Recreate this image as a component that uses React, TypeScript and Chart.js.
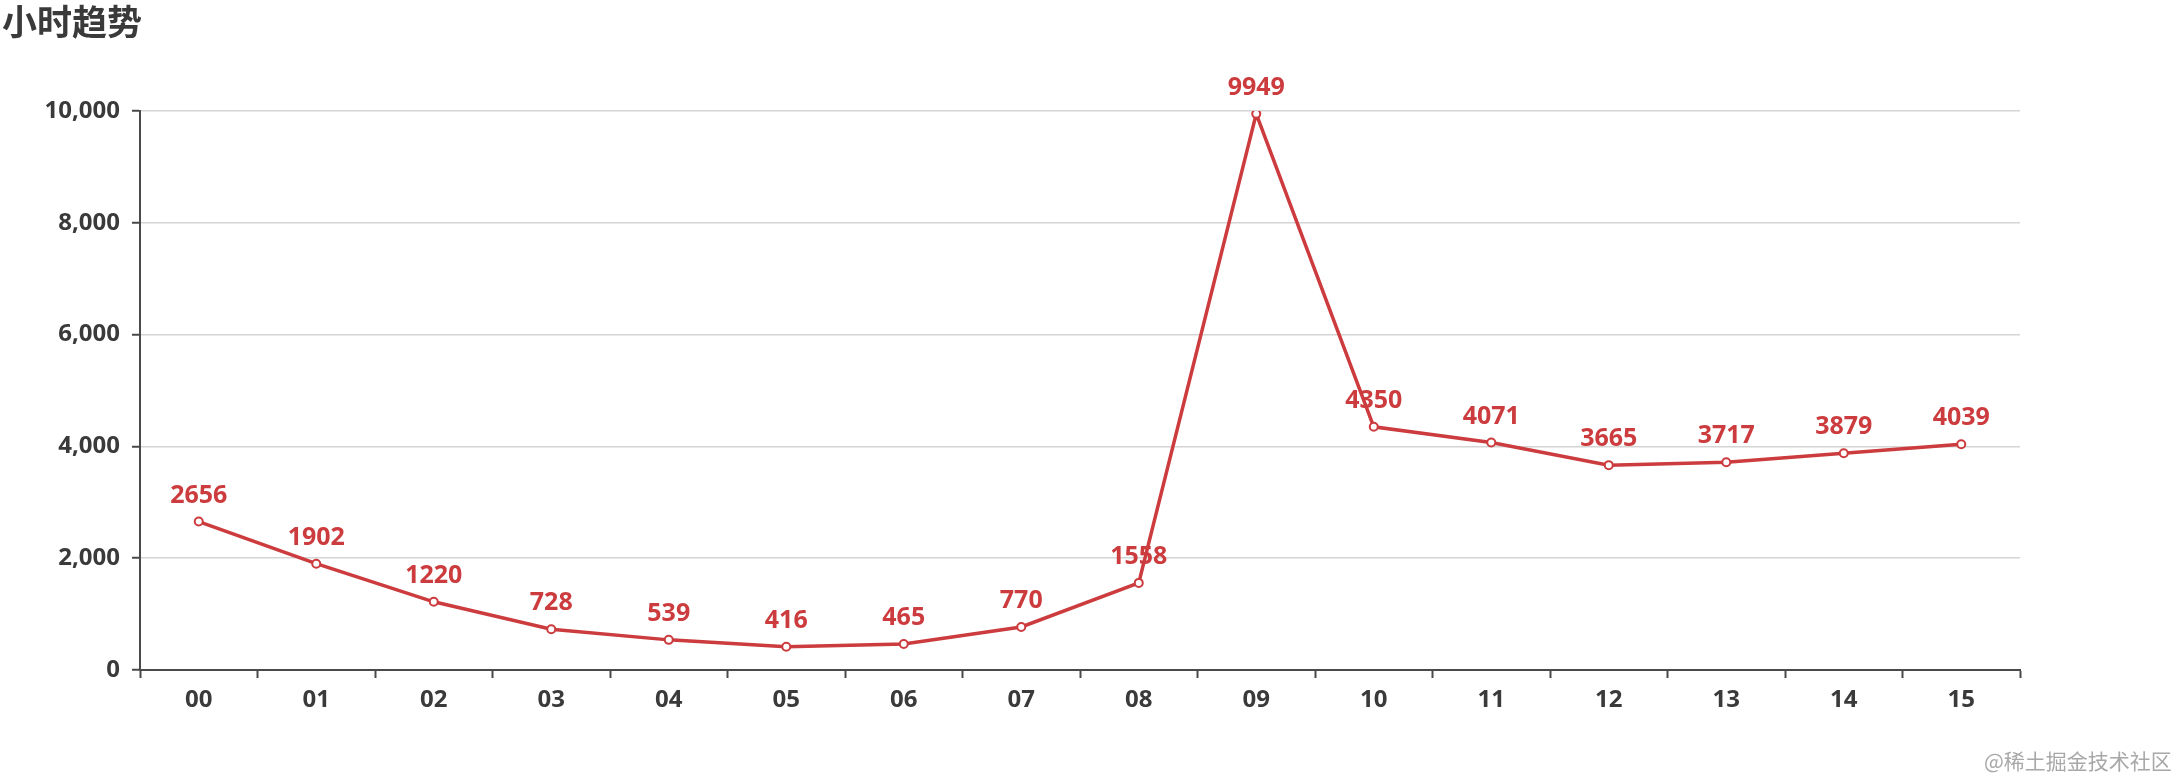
import React, { useEffect, useRef } from "react";
import { Chart, registerables } from "chart.js";

Chart.register(...registerables);

const hours = ["00", "01", "02", "03", "04", "05", "06", "07", "08", "09", "10", "11", "12", "13", "14", "15"];
const counts = [2656, 1902, 1220, 728, 539, 416, 465, 770, 1558, 9949, 4350, 4071, 3665, 3717, 3879, 4039];
const yTicks = [0, 2000, 4000, 6000, 8000, 10000];
const titleText = "小时趋势";
const watermarkText = "@稀土掘金技术社区";

const RED = "#cc3b3d";
const AXIS = "#4a4a4a";
const TEXT = "#3a3a3a";

const overlayPlugin = {
  id: "overlayText",
  afterDatasetsDraw(chart: any) {
    const ctx = chart.ctx;
    ctx.save();
    // title
    ctx.fillStyle = "#3a3a3a";
    ctx.font = 'bold 35px "Noto Sans CJK SC", sans-serif';
    ctx.textAlign = "left";
    ctx.textBaseline = "middle";
    ctx.fillText(titleText, 2, 22);
    // data labels
    const meta = chart.getDatasetMeta(0);
    const data = chart.data.datasets[0].data as number[];
    ctx.fillStyle = RED;
    ctx.font = 'bold 25px "Open Sans", sans-serif';
    ctx.textAlign = "center";
    ctx.textBaseline = "middle";
    meta.data.forEach((pt: any, i: number) => {
      ctx.fillText(String(data[i]), pt.x, pt.y - 26);
    });
    ctx.restore();
  },
};

export default function App() {
  const canvasRef = useRef<HTMLCanvasElement | null>(null);

  useEffect(() => {
    if (!canvasRef.current) return;
    const chart = new Chart(canvasRef.current, {
      type: "line",
      data: {
        labels: hours,
        datasets: [
          {
            data: counts,
            borderColor: RED,
            borderWidth: 3.5,
            pointRadius: 4,
            pointBorderWidth: 2,
            pointBackgroundColor: "#ffffff",
            pointBorderColor: RED,
            tension: 0,
            fill: false,
          },
        ],
      },
      options: {
        responsive: false,
        animation: false,
        layout: { padding: { top: 111, right: 152, bottom: 0, left: 0 } },
        plugins: {
          legend: { display: false },
          tooltip: { enabled: false },
          title: { display: false },
        },
        scales: {
          x: {
            type: "category",
            offset: true,
            grid: {
              offset: true,
              drawOnChartArea: false,
              drawTicks: true,
              tickLength: 8,
              tickColor: AXIS,
              tickWidth: 2,
            },
            border: { display: true, color: AXIS, width: 2 },
            ticks: {
              color: TEXT,
              padding: 8,
              font: { family: '"Open Sans", sans-serif', size: 24, weight: "bold" },
              maxRotation: 0,
              autoSkip: false,
            },
            afterFit: (scale: any) => {
              scale.height = 106;
            },
          },
          y: {
            min: 0,
            max: 10000,
            afterBuildTicks: (scale: any) => {
              scale.ticks = yTicks.map((v) => ({ value: v }));
            },
            grid: {
              color: "#d4d4d4",
              lineWidth: 1.5,
              drawTicks: true,
              tickLength: 8,
              tickColor: AXIS,
              tickWidth: 2,
            },
            border: { display: true, color: AXIS, width: 2 },
            ticks: {
              color: TEXT,
              padding: 12,
              font: { family: '"Open Sans", sans-serif', size: 24, weight: "bold" },
              callback: (v: any) => Number(v).toLocaleString("en-US"),
            },
            afterFit: (scale: any) => {
              scale.width = 140;
            },
          },
        },
      },
      plugins: [overlayPlugin],
    });
    return () => chart.destroy();
  }, []);

  return (
    <div
      style={{
        position: "absolute",
        left: 0,
        top: 0,
        width: 2172,
        height: 776,
        overflow: "hidden",
        background: "#ffffff",
      }}
    >
      <canvas ref={canvasRef} width={2172} height={776} style={{ display: "block" }} />
      <div
        style={{
          position: "absolute",
          left: 1984,
          top: 747,
          fontFamily: '"Noto Sans CJK SC", sans-serif',
          fontSize: 21,
          lineHeight: "26px",
          color: "#a8a8a8",
          whiteSpace: "nowrap",
        }}
      >
        {watermarkText}
      </div>
    </div>
  );
}
